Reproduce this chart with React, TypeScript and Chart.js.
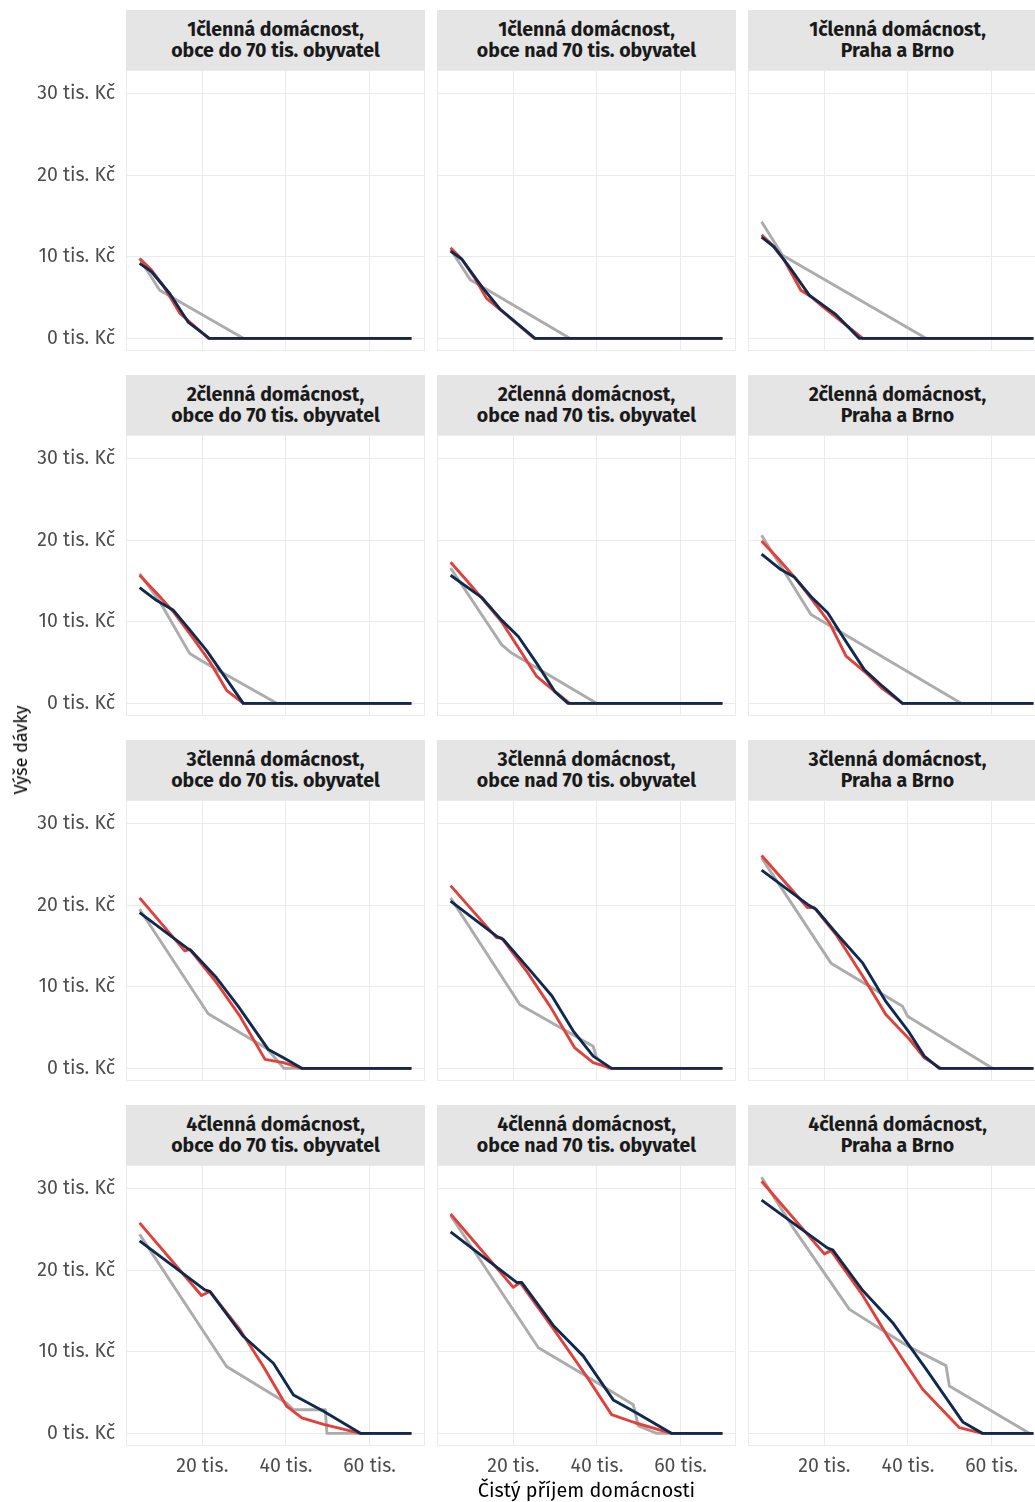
import React, { useEffect, useRef } from "react";
import { Chart, registerables } from "chart.js";

Chart.register(...registerables);

type Pt = [number, number];

// Facet labels
const householdLabels = [
  "1členná domácnost,",
  "2členná domácnost,",
  "3členná domácnost,",
  "4členná domácnost,",
];
const regionLabels = [
  "obce do 70 tis. obyvatel",
  "obce nad 70 tis. obyvatel",
  "Praha a Brno",
];

// Axis ticks (tis. Kč)
const incomeTicks = [20, 40, 60];
const benefitTicks = [0, 10, 20, 30];
const xTitle = "Čistý příjem domácnosti";
const yTitle = "Výše dávky";

// Benefit curves per panel: [net household income, benefit], both in tis. Kč.
// Panels are ordered row by row (household size), columns by region.
const greySeries: Pt[][] = [
  [[5, 9.8], [9.8, 5.9], [29.8, 0], [70, 0]],
  [[5, 10.9], [9.7, 7.2], [33.5, 0], [70, 0]],
  [[5, 14.3], [10, 10.2], [44.3, 0], [70, 0]],
  [[5, 15.9], [9.9, 12.4], [17.0, 6.1], [20.2, 5.1], [37.8, 0], [70, 0]],
  [[5, 16.6], [17.2, 7.2], [19.5, 6.2], [39.9, 0], [70, 0]],
  [[5, 20.6], [16.8, 10.9], [52.7, 0], [70, 0]],
  [[5, 19.5], [21.4, 6.7], [35.5, 2.4], [39.5, 0], [70, 0]],
  [[5, 20.9], [21.6, 7.8], [39.1, 2.7], [39.9, 1.3], [42.7, 0], [70, 0]],
  [[5, 25.8], [21.6, 12.9], [38.7, 7.6], [39.9, 6.4], [60.2, 0], [70, 0]],
  [[5, 24.4], [25.8, 8.2], [40.2, 3.7], [41.8, 2.9], [49.4, 2.9], [49.8, 0], [70, 0]],
  [[5, 26.7], [26.0, 10.5], [37.5, 7.0], [48.7, 3.5], [49.9, 0.9], [54.3, 0], [70, 0]],
  [[5, 31.4], [12.8, 25.0], [26.0, 15.2], [39.9, 10.7], [49.1, 8.3], [49.9, 5.8], [69.0, 0], [70, 0]],
];

const redSeries: Pt[][] = [
  [[5, 9.8], [7.8, 8.4], [10.6, 6.5], [14.6, 3.1], [17, 2.0], [21.5, 0], [70, 0]],
  [[5, 11.1], [7.7, 9.7], [10.5, 7.6], [13.6, 4.9], [16, 3.9], [25, 0], [70, 0]],
  [[5, 12.7], [7.6, 11.4], [10.4, 9.6], [14.4, 5.9], [16.8, 5.1], [19.6, 3.9], [29.2, 0], [70, 0]],
  [[5, 15.7], [9.1, 13.5], [13.1, 11.2], [17.8, 8.0], [21.8, 5.1], [25.8, 1.6], [29.8, 0], [70, 0]],
  [[5, 17.3], [8.8, 15.1], [12.8, 12.7], [17.2, 10.0], [21.6, 6.5], [25.6, 3.3], [29.6, 1.6], [33.5, 0], [70, 0]],
  [[5, 19.9], [9.2, 17.6], [12.8, 15.5], [16.8, 12.9], [21.2, 9.9], [25.2, 5.8], [29.6, 3.9], [33.9, 1.8], [38.7, 0], [70, 0]],
  [[5, 20.9], [15.8, 14.4], [17.0, 14.6], [23.4, 10.5], [29.0, 6.4], [35.0, 1.1], [39.4, 0.7], [43.8, 0], [70, 0]],
  [[5, 22.4], [16.0, 16.0], [17.2, 16.0], [23.2, 11.9], [28.8, 7.6], [34.7, 2.5], [39.1, 0.7], [43.5, 0], [70, 0]],
  [[5, 26.1], [16.0, 19.7], [17.6, 19.7], [22.8, 16.4], [29.2, 11.3], [34.7, 6.6], [40.3, 3.6], [43.9, 1.3], [47.9, 0], [70, 0]],
  [[5, 25.8], [19.8, 16.9], [21.8, 17.4], [29.0, 12.7], [34.6, 8.2], [40.2, 3.3], [43.8, 1.9], [49.0, 1.1], [57.8, 0], [70, 0]],
  [[5, 26.9], [20.0, 17.9], [21.6, 18.5], [29.6, 12.8], [37.5, 7.0], [43.5, 2.3], [49.1, 1.3], [57.8, 0], [70, 0]],
  [[5, 30.9], [20.0, 22.0], [21.6, 22.4], [29.2, 16.9], [35.5, 11.6], [43.5, 5.4], [52.3, 0.7], [57.8, 0], [70, 0]],
];

const navySeries: Pt[][] = [
  [[5, 9.2], [7.8, 8.2], [12.2, 5.5], [16.6, 2.0], [21.7, 0], [70, 0]],
  [[5, 10.7], [7.7, 9.7], [12.5, 6.3], [16.8, 3.6], [25.2, 0], [70, 0]],
  [[5, 12.4], [8.05, 11.2], [11.6, 8.8], [16.4, 5.3], [22.8, 2.9], [28.4, 0], [70, 0]],
  [[5, 14.2], [9.1, 12.6], [13.1, 11.4], [17.0, 9.0], [21.0, 6.5], [29.8, 0], [70, 0]],
  [[5, 15.7], [12.4, 13.0], [17.2, 10.2], [21.2, 8.2], [25.6, 4.9], [30.0, 1.4], [33.1, 0], [70, 0]],
  [[5, 18.3], [9.6, 16.4], [12.8, 15.5], [16.8, 13.1], [20.8, 11.1], [24.4, 8.2], [29.6, 4.1], [33.9, 2.1], [38.7, 0], [70, 0]],
  [[5, 19.1], [16.2, 14.8], [17.4, 14.4], [23.4, 11.1], [28.6, 7.6], [35.8, 2.3], [39.4, 1.3], [43.8, 0], [70, 0]],
  [[5, 20.5], [16.0, 16.2], [17.6, 15.8], [23.2, 12.5], [29.2, 8.9], [34.3, 4.6], [39.1, 1.5], [43.5, 0], [70, 0]],
  [[5, 24.3], [16.0, 20.1], [18.0, 19.5], [22.8, 16.6], [29.2, 12.9], [34.7, 8.2], [40.3, 4.4], [43.9, 1.5], [47.5, 0], [70, 0]],
  [[5, 23.6], [20.6, 17.6], [21.8, 17.4], [29.8, 11.9], [37.0, 8.6], [41.8, 4.7], [49.0, 2.7], [57.8, 0], [70, 0]],
  [[5, 24.7], [20.8, 18.5], [22.0, 18.5], [29.6, 13.2], [36.7, 9.5], [43.9, 4.1], [49.5, 2.5], [57.8, 0], [70, 0]],
  [[5, 28.6], [20.8, 22.7], [22.0, 22.5], [29.2, 17.5], [36.3, 13.6], [44.3, 7.9], [53.1, 1.4], [57.8, 0], [70, 0]],
];

// Styling
const FONT = "'Fira Sans', 'Noto Sans', sans-serif";
const GREY = "#acacac";
const RED = "#e2403a";
const NAVY = "#0f2a4e";
const GRID = "#ebebeb";
const STRIP_BG = "#e5e5e5";
const TICK_COLOR = "#4d4d4d";

// Layout
const FIG_W = 1035;
const FIG_H = 1502;
const COL_LEFT = [126, 437, 748];
const PANEL_W = 299;
const STRIP_TOP = 10;
const ROW_STEP = 365;
const STRIP_H = 60;
const PLOT_H = 281;
const Y_AXIS_W = 126;
const X_RANGE = { min: 1.75, max: 73.25 };
const Y_RANGE = { min: -1.55, max: 32.9 };

const framePlugin = {
  id: "panelFrame",
  beforeDatasetsDraw(chart: any) {
    const { ctx, chartArea: a } = chart;
    ctx.save();
    ctx.strokeStyle = GRID;
    ctx.lineWidth = 1;
    ctx.strokeRect(
      Math.round(a.left) + 0.5,
      Math.round(a.top) + 0.5,
      Math.round(a.right - a.left) - 1,
      Math.round(a.bottom - a.top) - 1
    );
    ctx.restore();
  },
};

function Panel({ row, col }: { row: number; col: number }) {
  const ref = useRef<HTMLCanvasElement>(null);
  const idx = row * 3 + col;
  const isLeft = col === 0;
  const isBottom = row === 3;
  const plotTop = STRIP_TOP + row * ROW_STEP + STRIP_H;
  const yAxisW = isLeft ? Y_AXIS_W : 0;
  const xAxisH = isBottom ? FIG_H - (plotTop + PLOT_H) : 0;
  const width = yAxisW + PANEL_W;
  const height = PLOT_H + xAxisH;
  const left = COL_LEFT[col] - yAxisW;

  useEffect(() => {
    const canvas = ref.current;
    if (!canvas) return;
    const toXY = (pts: Pt[]) => pts.map(([x, y]) => ({ x, y }));
    const line = (pts: Pt[], color: string) => ({
      data: toXY(pts),
      borderColor: color,
      backgroundColor: color,
      borderWidth: 2.9,
      pointRadius: 0,
      tension: 0,
      fill: false,
      borderJoinStyle: "round" as const,
      borderCapStyle: "butt" as const,
    });
    // Chart.js paints the first dataset on top, so navy goes first.
    const chart = new Chart(canvas, {
      type: "line",
      data: {
        datasets: [
          line(navySeries[idx], NAVY),
          line(redSeries[idx], RED),
          line(greySeries[idx], GREY),
        ],
      },
      options: {
        responsive: false,
        maintainAspectRatio: false,
        animation: false,
        devicePixelRatio: 1,
        layout: { padding: 0 },
        plugins: {
          legend: { display: false },
          tooltip: { enabled: false },
        },
        scales: {
          x: {
            type: "linear",
            min: X_RANGE.min,
            max: X_RANGE.max,
            afterBuildTicks: (s: any) => {
              s.ticks = incomeTicks.map((v) => ({ value: v }));
            },
            afterFit: (s: any) => {
              s.height = xAxisH;
              s.paddingLeft = 0;
              s.paddingRight = 0;
            },
            grid: { color: GRID, lineWidth: 1, drawTicks: false },
            border: { display: false },
            ticks: {
              display: isBottom,
              padding: 9,
              color: TICK_COLOR,
              font: { family: FONT, size: 19.5 },
              maxRotation: 0,
              callback: (v: any) => `${v} tis.`,
            },
            title: {
              display: isBottom && col === 1,
              text: xTitle,
              color: "#000000",
              font: { family: FONT, size: 19.8, lineHeight: 1.1 },
              padding: { top: 0, bottom: 0 },
            },
          },
          y: {
            type: "linear",
            min: Y_RANGE.min,
            max: Y_RANGE.max,
            afterBuildTicks: (s: any) => {
              s.ticks = benefitTicks.map((v) => ({ value: v }));
            },
            afterFit: (s: any) => {
              s.width = yAxisW;
              s.paddingTop = 0;
              s.paddingBottom = 0;
            },
            grid: { color: GRID, lineWidth: 1, drawTicks: false },
            border: { display: false },
            ticks: {
              display: isLeft,
              padding: 11,
              color: TICK_COLOR,
              font: { family: FONT, size: 19.5 },
              callback: (v: any) => `${v} tis. Kč`,
            },
          },
        },
      },
      plugins: [framePlugin],
    });
    return () => chart.destroy();
  }, [idx]);

  return (
    <canvas
      ref={ref}
      width={width}
      height={height}
      style={{ position: "absolute", left, top: plotTop, width, height }}
    />
  );
}

function Strip({ row, col }: { row: number; col: number }) {
  return (
    <div
      style={{
        position: "absolute",
        left: COL_LEFT[col],
        top: STRIP_TOP + row * ROW_STEP,
        width: PANEL_W,
        height: STRIP_H,
        background: STRIP_BG,
        display: "flex",
        flexDirection: "column",
        alignItems: "center",
        justifyContent: "center",
        fontFamily: FONT,
        fontWeight: 700,
        fontSize: 19.5,
        lineHeight: "21px",
        color: "#1a1a1a",
        textAlign: "center",
        whiteSpace: "nowrap",
      }}
    >
      <div>{householdLabels[row]}</div>
      <div>{regionLabels[col]}</div>
    </div>
  );
}

export default function App() {
  const cells: { row: number; col: number }[] = [];
  for (let r = 0; r < householdLabels.length; r++) {
    for (let c = 0; c < regionLabels.length; c++) cells.push({ row: r, col: c });
  }
  return (
    <div
      style={{
        position: "absolute",
        left: 0,
        top: 0,
        width: FIG_W,
        height: FIG_H,
        overflow: "hidden",
        background: "#ffffff",
      }}
    >
      {cells.map(({ row, col }) => (
        <React.Fragment key={`${row}-${col}`}>
          <Strip row={row} col={col} />
          <Panel row={row} col={col} />
        </React.Fragment>
      ))}
      <div
        style={{
          position: "absolute",
          left: 21,
          top: 750,
          transform: "translate(-50%, -50%) rotate(-90deg)",
          whiteSpace: "nowrap",
          fontFamily: FONT,
          fontSize: 18,
          color: "#000000",
        }}
      >
        {yTitle}
      </div>
    </div>
  );
}
